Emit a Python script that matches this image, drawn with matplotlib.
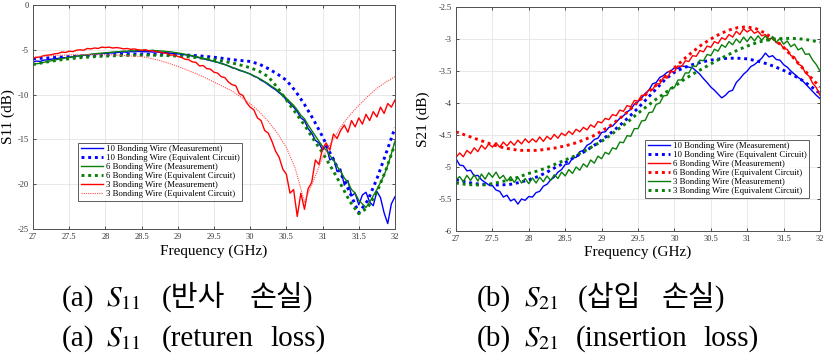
import matplotlib
matplotlib.use("Agg")
import matplotlib.pyplot as plt
import numpy as np

plt.rcParams['font.family'] = ['Liberation Serif', 'Noto Sans CJK KR']
plt.rcParams['mathtext.fontset'] = 'stix'

# frequency sample grids (GHz)
f_meas = np.linspace(27, 32, 101)
f_ec = np.linspace(27, 32, 41)

labels_a = ['10 Bonding Wire (Measurement)', '10 Bonding Wire (Equivalent Circuit)',
            '6 Bonding Wire (Measurement)', '6 Bonding Wire (Equivalent Circuit)',
            '3 Bonding Wire (Measurement)', '3 Bonding Wire (Equivalent Circuit)']
labels_b = labels_a

# ---- S11 (dB) ----
s11_meas_10 = [-6.35, -6.25, -6.3, -6.15, -6.12, -6.05, -6.0, -5.95, -5.9, -5.88,
               -5.8, -5.78, -5.7, -5.68, -5.6, -5.6, -5.52, -5.5, -5.45, -5.42,
               -5.4, -5.35, -5.36, -5.3, -5.28, -5.25, -5.27, -5.2, -5.22, -5.18,
               -5.2, -5.22, -5.2, -5.25, -5.23, -5.28, -5.3, -5.32, -5.38, -5.4,
               -5.45, -5.5, -5.55, -5.62, -5.7, -5.8, -5.9, -6.0, -6.1, -6.2,
               -6.3, -6.4, -6.5, -6.65, -6.8, -7.0, -7.1, -7.3, -7.4, -7.55,
               -7.7, -7.95, -8.1, -8.4, -8.6, -8.9, -9.2, -9.45, -9.8, -10.1,
               -10.6, -11.0, -11.4, -11.9, -12.6, -12.9, -13.8, -14.3, -15.1, -15.4,
               -16.2, -15.7, -17.3, -17.0, -18.6, -18.3, -20.1, -19.6, -21.3, -21.0,
               -22.3, -21.2, -20.9, -22.0, -22.4, -20.8, -21.5, -23.2, -24.4, -22.2,
               -21.4]
s11_meas_6 = [-6.65, -6.55, -6.5, -6.4, -6.3, -6.22, -6.15, -6.05, -6.0, -5.9,
              -5.85, -5.78, -5.72, -5.65, -5.6, -5.55, -5.5, -5.45, -5.4, -5.38,
              -5.33, -5.3, -5.25, -5.22, -5.2, -5.15, -5.15, -5.1, -5.12, -5.05,
              -5.08, -5.05, -5.1, -5.05, -5.1, -5.12, -5.15, -5.2, -5.22, -5.3,
              -5.35, -5.42, -5.5, -5.58, -5.65, -5.75, -5.85, -5.95, -6.05, -6.15,
              -6.3, -6.4, -6.55, -6.65, -6.8, -6.95, -7.1, -7.25, -7.4, -7.55,
              -7.7, -7.9, -8.1, -8.3, -8.55, -8.8, -9.1, -9.35, -9.7, -10.0,
              -10.4, -10.8, -11.2, -11.7, -12.3, -12.7, -13.4, -14.0, -14.6, -15.2,
              -15.8, -16.2, -16.8, -17.3, -18.0, -18.6, -19.3, -19.8, -20.6, -21.0,
              -21.8, -22.2, -22.6, -22.0, -21.3, -20.6, -19.8, -19.0, -17.9, -16.6,
              -15.2]
s11_meas_3 = [-5.95, -5.85, -5.8, -5.65, -5.6, -5.55, -5.45, -5.4, -5.25, -5.3,
              -5.15, -5.2, -5.05, -5.0, -5.05, -4.85, -4.9, -4.8, -4.85, -4.7,
              -4.75, -4.7, -4.8, -4.75, -4.8, -4.9, -4.85, -4.95, -4.9, -5.0,
              -5.05, -5.0, -5.1, -5.1, -5.2, -5.25, -5.35, -5.4, -5.6, -5.55,
              -5.75, -5.85, -6.05, -6.1, -6.35, -6.4, -6.8, -6.75, -7.1, -7.15,
              -7.5, -7.6, -8.0, -8.1, -8.6, -8.9, -9.0, -9.9, -10.1, -10.9,
              -11.4, -11.7, -12.6, -12.9, -14.0, -14.3, -15.2, -16.3, -17.0, -18.3,
              -18.9, -21.0, -20.6, -23.6, -21.0, -22.8, -20.5, -19.8, -17.3, -17.8,
              -16.0, -15.4, -16.2, -14.4, -14.9, -14.0, -13.4, -14.2, -12.9, -13.6,
              -12.6, -13.3, -12.2, -12.9, -11.9, -12.5, -11.4, -12.1, -11.0, -11.4,
              -10.6]
s11_ec_10 = [-6.0, -5.94, -5.88, -5.82, -5.76, -5.71, -5.66, -5.61, -5.57, -5.54,
             -5.51, -5.49, -5.48, -5.48, -5.49, -5.51, -5.55, -5.59, -5.65, -5.73,
             -5.83, -5.96, -6.1, -6.2, -6.3, -6.6, -7.1, -7.7, -8.4, -9.6,
             -11.1, -12.8, -14.7, -16.9, -18.8, -20.9, -23.2, -21.8, -19.4, -16.6,
             -13.7]
s11_ec_6 = [-6.65, -6.45, -6.28, -6.13, -6.0, -5.9, -5.82, -5.75, -5.7, -5.66,
            -5.63, -5.61, -5.6, -5.6, -5.62, -5.65, -5.7, -5.77, -5.86, -5.97,
            -6.1, -6.27, -6.47, -6.72, -7.0, -7.4, -8.0, -9.2, -10.6, -12.0,
            -13.4, -15.0, -16.5, -18.2, -20.0, -21.9, -23.3, -22.6, -20.9, -18.4,
            -15.5]
s11_ec_3 = [-5.8, -5.72, -5.66, -5.61, -5.57, -5.55, -5.53, -5.53, -5.55, -5.58,
            -5.63, -5.7, -5.75, -5.95, -6.2, -6.5, -6.85, -7.25, -7.65, -8.1,
            -8.6, -9.1, -9.6, -10.3, -11.0, -11.9, -13.0, -14.3, -15.9, -18.3,
            -22.0, -19.6, -17.0, -15.3, -13.6, -12.3, -11.2, -10.2, -9.3, -8.6,
            -8.0]

# ---- S21 (dB) ----
s21_meas_10 = [-4.87, -4.97, -4.98, -5.06, -5.05, -5.14, -5.13, -5.2, -5.24, -5.28,
               -5.29, -5.36, -5.38, -5.47, -5.44, -5.53, -5.5, -5.58, -5.5, -5.52,
               -5.46, -5.47, -5.4, -5.38, -5.3, -5.27, -5.2, -5.16, -5.08, -5.04,
               -4.96, -4.95, -4.86, -4.85, -4.76, -4.74, -4.66, -4.63, -4.57, -4.55,
               -4.46, -4.45, -4.38, -4.36, -4.3, -4.24, -4.2, -4.14, -4.1, -4.02,
               -3.98, -3.92, -3.85, -3.8, -3.7, -3.68, -3.6, -3.57, -3.52, -3.5,
               -3.45, -3.46, -3.42, -3.43, -3.44, -3.45, -3.5, -3.55, -3.62, -3.68,
               -3.75, -3.8, -3.86, -3.92, -3.88, -3.82, -3.8, -3.68, -3.62, -3.55,
               -3.5, -3.43, -3.4, -3.35, -3.3, -3.22, -3.28, -3.26, -3.32, -3.33,
               -3.4, -3.44, -3.5, -3.55, -3.6, -3.64, -3.7, -3.76, -3.82, -3.88,
               -3.93]
s21_meas_6 = [-4.85, -4.78, -4.84, -4.74, -4.79, -4.7, -4.76, -4.66, -4.72, -4.64,
              -4.69, -4.62, -4.69, -4.61, -4.67, -4.6, -4.66, -4.58, -4.64, -4.56,
              -4.62, -4.56, -4.61, -4.53, -4.6, -4.52, -4.57, -4.49, -4.55, -4.47,
              -4.51, -4.44, -4.49, -4.41, -4.45, -4.38, -4.42, -4.34, -4.38, -4.29,
              -4.31, -4.24, -4.26, -4.18, -4.2, -4.11, -4.13, -4.04, -4.06, -3.96,
              -3.97, -3.88, -3.88, -3.79, -3.79, -3.7, -3.7, -3.6, -3.61, -3.51,
              -3.51, -3.42, -3.43, -3.34, -3.35, -3.26, -3.27, -3.18, -3.2, -3.11,
              -3.13, -3.04, -3.07, -2.98, -3.01, -2.93, -2.97, -2.88, -2.93, -2.84,
              -2.89, -2.85, -2.91, -2.88, -2.95, -2.93, -3.0, -2.98, -3.06, -3.06,
              -3.15, -3.16, -3.26, -3.28, -3.39, -3.42, -3.53, -3.58, -3.69, -3.76,
              -3.88]
s21_meas_3 = [-5.2, -5.15, -5.23, -5.13, -5.21, -5.12, -5.22, -5.11, -5.19, -5.09,
              -5.16, -5.08, -5.18, -5.13, -5.22, -5.15, -5.24, -5.16, -5.25, -5.18,
              -5.26, -5.17, -5.25, -5.16, -5.23, -5.14, -5.21, -5.12, -5.18, -5.08,
              -5.14, -5.04, -5.1, -5.0, -5.05, -4.95, -5.0, -4.89, -4.94, -4.83,
              -4.87, -4.77, -4.8, -4.7, -4.72, -4.61, -4.62, -4.51, -4.52, -4.4,
              -4.4, -4.28, -4.27, -4.15, -4.14, -4.02, -4.0, -3.89, -3.88, -3.76,
              -3.76, -3.64, -3.64, -3.53, -3.53, -3.42, -3.43, -3.33, -3.34, -3.24,
              -3.26, -3.16, -3.19, -3.09, -3.13, -3.04, -3.09, -3.0, -3.06, -2.97,
              -3.04, -2.96, -3.03, -2.95, -3.02, -2.95, -3.03, -2.96, -3.05, -2.99,
              -3.08, -3.03, -3.12, -3.08, -3.17, -3.14, -3.24, -3.23, -3.33, -3.4,
              -3.5]
s21_ec_10 = [-5.2, -5.23, -5.26, -5.27, -5.28, -5.28, -5.27, -5.24, -5.2, -5.15,
             -5.08, -5.0, -4.93, -4.85, -4.77, -4.68, -4.58, -4.47, -4.35, -4.22,
             -4.08, -3.93, -3.78, -3.63, -3.52, -3.45, -3.4, -3.36, -3.33, -3.31,
             -3.3, -3.3, -3.31, -3.34, -3.38, -3.43, -3.49, -3.56, -3.64, -3.74,
             -3.85]
s21_ec_6 = [-4.45, -4.5, -4.55, -4.6, -4.65, -4.69, -4.72, -4.74, -4.74, -4.74,
            -4.72, -4.7, -4.67, -4.63, -4.58, -4.52, -4.44, -4.35, -4.24, -4.12,
            -3.98, -3.85, -3.72, -3.58, -3.45, -3.32, -3.2, -3.09, -3.0, -2.92,
            -2.86, -2.82, -2.81, -2.84, -2.91, -3.01, -3.13, -3.28, -3.44, -3.6,
            -3.75]
s21_ec_3 = [-5.25, -5.27, -5.28, -5.28, -5.26, -5.23, -5.2, -5.15, -5.1, -5.06,
            -5.01, -4.95, -4.89, -4.83, -4.76, -4.68, -4.6, -4.5, -4.39, -4.28,
            -4.16, -4.05, -3.94, -3.84, -3.74, -3.64, -3.55, -3.47, -3.39, -3.31,
            -3.24, -3.17, -3.11, -3.06, -3.02, -3.0, -2.99, -2.99, -3.0, -3.02,
            -3.05]

# caption words: (x px, text)
cap_a1 = [(62, '(a)'), (106, r'$S_{11}$'), (162, '(반사'), (250, '손실)')]
cap_a2 = [(62, '(a)'), (106, r'$S_{11}$'), (162, '(returen'), (270, 'loss)')]
cap_b1 = [(477, '(b)'), (524, r'$S_{21}$'), (578, '(삽입'), (662, '손실)')]
cap_b2 = [(477, '(b)'), (524, r'$S_{21}$'), (576, '(insertion'), (703, 'loss)')]

BLUE = '#0000ff'
RED = '#ff0000'
GREEN = '#0a7f0a'
dots = (0, (1, 1.3))


def style_axes(ax, ylim, yticks, ylabel):
    ax.set_xlim(27, 32)
    ax.set_ylim(*ylim)
    ax.set_xticks(np.arange(27, 32.01, 0.5))
    ax.set_xticklabels(['27', '27.5', '28', '28.5', '29', '29.5', '30',
                        '30.5', '31', '31.5', '32'])
    ax.set_yticks(yticks)
    ax.set_yticklabels([('%g' % t) for t in yticks])
    ax.grid(True, color='#e4e4e4', lw=0.6)
    ax.set_axisbelow(True)
    ax.tick_params(direction='in', length=2.5, width=0.6, labelsize=6,
                   colors='#333333', top=True, right=True, pad=3)
    for s in ax.spines.values():
        s.set_color('#505050')
        s.set_linewidth(0.7)
    ax.set_xlabel('Frequency (GHz)', fontsize=11)
    ax.set_ylabel(ylabel, fontsize=11)


fig = plt.figure(figsize=(8.27, 3.6), dpi=100)

# (a) S11
ax1 = fig.add_axes([0.0399, 0.3639, 0.4377, 0.6222])
ax1.plot(f_meas, s11_meas_10, color=BLUE, lw=1.0, label=labels_a[0])
ax1.plot(f_ec, s11_ec_10, color=BLUE, lw=2.1, ls=dots, label=labels_a[1])
ax1.plot(f_meas, s11_meas_6, color=GREEN, lw=1.0, label=labels_a[2])
ax1.plot(f_ec, s11_ec_6, color=GREEN, lw=2.1, ls=dots, label=labels_a[3])
ax1.plot(f_meas, s11_meas_3, color=RED, lw=1.0, label=labels_a[4])
ax1.plot(f_ec, s11_ec_3, color='#ff5050', lw=0.8, ls=(0, (1, 1)), label=labels_a[5])
style_axes(ax1, (-25, 0), [0, -5, -10, -15, -20, -25], 'S11 (dB)')
ax1.xaxis.set_label_coords(0.5, -0.07)
ax1.yaxis.set_label_coords(-0.05, 0.5)
leg1 = ax1.legend(loc='lower left', bbox_to_anchor=(0.124, 0.125), fontsize=6.3,
                  frameon=True, fancybox=False, edgecolor='#333333',
                  handlelength=2.6, labelspacing=0.1, borderpad=0.3,
                  handletextpad=0.3, borderaxespad=0)
leg1.get_frame().set_linewidth(0.7)

# (b) S21
ax2 = fig.add_axes([0.5514, 0.3583, 0.4401, 0.6222])
ax2.plot(f_meas, s21_meas_10, color=BLUE, lw=1.0, label=labels_b[0])
ax2.plot(f_ec, s21_ec_10, color=BLUE, lw=2.1, ls=dots, label=labels_b[1])
ax2.plot(f_meas, s21_meas_6, color=RED, lw=1.0, label=labels_b[2])
ax2.plot(f_ec, s21_ec_6, color=RED, lw=2.1, ls=dots, label=labels_b[3])
ax2.plot(f_meas, s21_meas_3, color=GREEN, lw=1.0, label=labels_b[4])
ax2.plot(f_ec, s21_ec_3, color=GREEN, lw=2.1, ls=dots, label=labels_b[5])
style_axes(ax2, (-6, -2.5), [-2.5, -3, -3.5, -4, -4.5, -5, -5.5, -6], 'S21 (dB)')
ax2.xaxis.set_label_coords(0.5, -0.063)
ax2.yaxis.set_label_coords(-0.071, 0.5)
leg2 = ax2.legend(loc='lower left', bbox_to_anchor=(0.519, 0.147), fontsize=6.3,
                  frameon=True, fancybox=False, edgecolor='#333333',
                  handlelength=2.6, labelspacing=0.1, borderpad=0.3,
                  handletextpad=0.3, borderaxespad=0)
leg2.get_frame().set_linewidth(0.7)

# captions, word by word so Hangul and mathtext can mix
for words, base in [(cap_a1, 306), (cap_a2, 346), (cap_b1, 306), (cap_b2, 346)]:
    for xp, w in words:
        fig.text(xp / 827, 1 - base / 360, w, fontsize=21, va='baseline')

fig.savefig('out.png', dpi=100)
